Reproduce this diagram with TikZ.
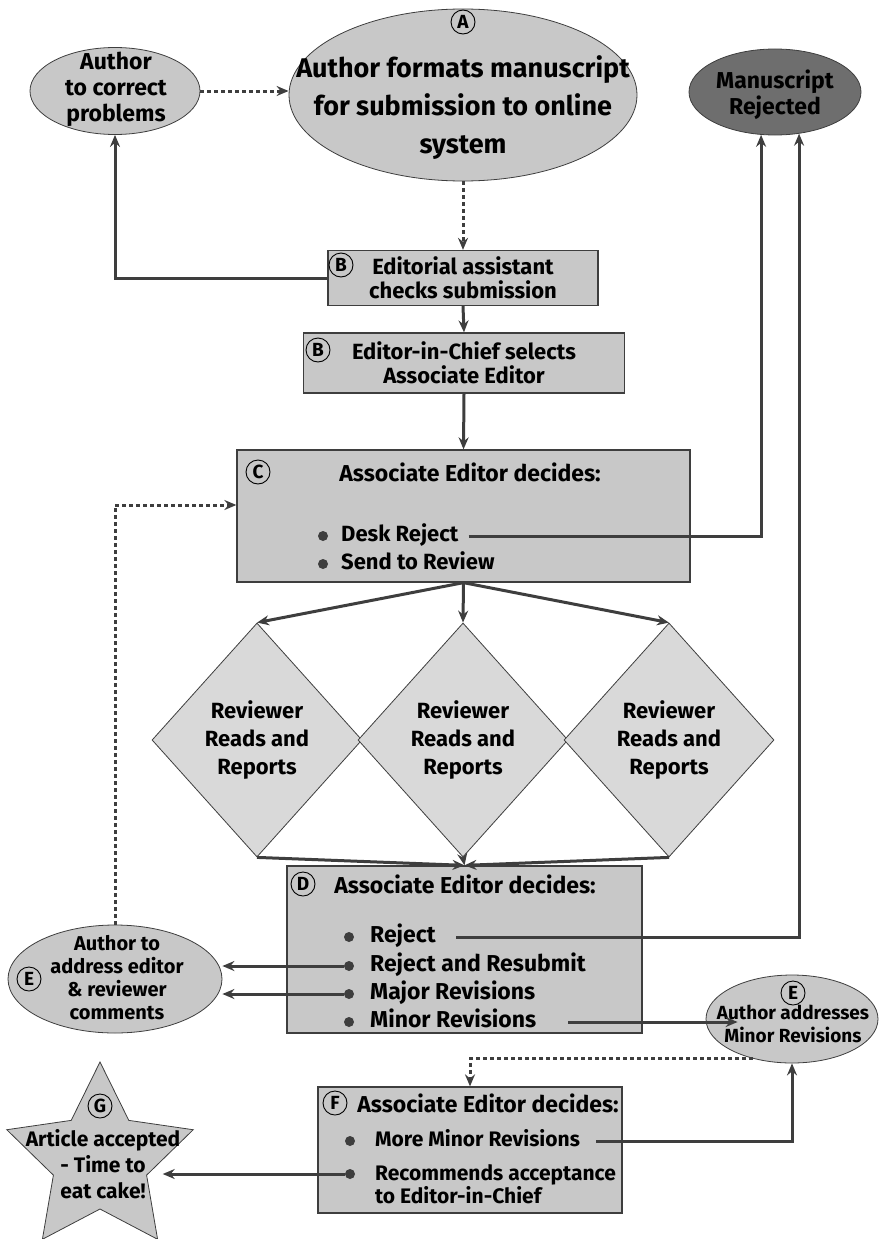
\documentclass[tikz,border=0pt]{standalone}
\usepackage{fontspec}
\setmainfont{Fira Sans}
\usetikzlibrary{shapes.geometric,arrows.meta,positioning,calc}
\definecolor{boxGray}{RGB}{200,200,200}
\definecolor{diaGray}{RGB}{217,217,217}
\definecolor{rejGray}{RGB}{110,110,110}
\definecolor{lineGray}{RGB}{62,62,62}

\begin{document}
\begin{tikzpicture}[x=1pt, y=-1pt,
    every node/.style={font=\bfseries\fontsize{22}{24}\selectfont, align=center, inner sep=0pt},
    oval/.style={ellipse, draw=lineGray, fill=boxGray, line width=0.8pt},
    stagebox/.style={rectangle, draw=lineGray, fill=boxGray, line width=1.3pt},
    review/.style={diamond, draw=lineGray, fill=diaGray, line width=0.8pt,
      minimum width=210pt, minimum height=234pt, font=\bfseries\fontsize{22}{28}\selectfont},
    stagetag/.style={circle, draw=black, line width=0.9pt, minimum size=24pt,
      font=\bfseries\fontsize{19}{19}\selectfont},
    blt/.style={circle, fill=lineGray, minimum size=10pt},
    optline/.style={anchor=west, text height=16pt, text depth=5pt},
    flowarrow/.style={-{Stealth[length=12pt, width=10pt, inset=4pt]}, draw=lineGray, line width=3pt},
    hintarrow/.style={flowarrow, dash pattern=on 4pt off 3pt}
  ]
    \useasboundingbox (0,0) rectangle (880,1239);
    % Submission
    \node[oval, minimum width=348pt, minimum height=172pt] (fmt) at (463,95) {};
    \node[stagetag] (tagA) at (463,22) {A};
    \node[font=\bfseries\fontsize{27}{38}\selectfont] (fmttxt) at (463,108)
      {Author formats manuscript\\for submission to online\\system};
    \node[oval, minimum width=170pt, minimum height=87pt] (fix) at (115,91) {};
    \node[font=\bfseries\fontsize{23}{26}\selectfont] (fixtxt) at (116,89)
      {Author\\to correct\\problems};
    \node[oval, fill=rejGray, minimum width=172pt, minimum height=86pt] (rej) at (775,92) {};
    \node[font=\bfseries\fontsize{23}{26}\selectfont] (rejtxt) at (775,95) {Manuscript\\Rejected};
    % Checks
    \node[stagebox, minimum width=270pt, minimum height=55pt] (chk) at (463,278)
      {Editorial assistant\\checks submission};
    \node[stagetag] (tagB1) at (341,265) {B};
    \node[stagebox, minimum width=321pt, minimum height=60pt] (sel) at (464,363)
      {Editor-in-Chief selects\\Associate Editor};
    \node[stagetag] (tagB2) at (318,350) {B};
    % First decision
    \node[stagebox, minimum width=453pt, minimum height=132pt] (aedc) at (463.5,516) {};
    \node[stagetag] (tagC) at (258,472) {C};
    \node[font=\bfseries\fontsize{23}{24}\selectfont] (hdrC) at (470,472) {Associate Editor decides:};
    \node[blt] (bC1) at (323,536) {};
    \node[blt] (bC2) at (323,564) {};
    \node[optline] (deskrej) at (341,536) {Desk Reject};
    \node[optline] (sendrev) at (341,564) {Send to Review};
    % Reviewers
    \node[review] (rv1) at (257,740) {Reviewer\\Reads and\\Reports};
    \node[review] (rv2) at (463,740) {Reviewer\\Reads and\\Reports};
    \node[review] (rv3) at (669,740) {Reviewer\\Reads and\\Reports};
    % Second decision
    \node[stagebox, minimum width=355pt, minimum height=167pt] (aedd) at (464.5,949.5) {};
    \node[stagetag] (tagD) at (303,884) {D};
    \node[font=\bfseries\fontsize{23}{24}\selectfont] (hdrD) at (465,884) {Associate Editor decides:};
    \node[blt] (bD1) at (349,937) {};
    \node[blt] (bD2) at (349,966) {};
    \node[blt] (bD3) at (349,994) {};
    \node[blt] (bD4) at (349,1022) {};
    \node[optline, font=\bfseries\fontsize{23}{24}\selectfont] (rejitem) at (370,937) {Reject};
    \node[optline, font=\bfseries\fontsize{23}{24}\selectfont] (rrsitem) at (370,966) {Reject and Resubmit};
    \node[optline, font=\bfseries\fontsize{23}{24}\selectfont] (majitem) at (370,994) {Major Revisions};
    \node[optline, font=\bfseries\fontsize{23}{24}\selectfont] (minitem) at (370,1022) {Minor Revisions};
    % Authors revise
    \node[oval, minimum width=214pt, minimum height=108pt] (revise) at (115,979) {};
    \node[font=\bfseries\fontsize{20}{23}\selectfont] (revisetxt) at (117,978)
      {Author to\\address editor\\\& reviewer\\comments};
    \node[stagetag] (tagE1) at (29,979) {E};
    \node[oval, minimum width=172pt, minimum height=88pt] (fixminor) at (792,1019) {};
    \node[stagetag] (tagE2) at (793,993) {E};
    \node[font=\bfseries\fontsize{19}{23}\selectfont] (fixminortxt) at (793,1024)
      {Author addresses\\Minor Revisions};
    % Final decision
    \node[stagebox, minimum width=304pt, minimum height=126pt] (aedf) at (470,1150) {};
    \node[stagetag] (tagF) at (335,1103) {F};
    \node[font=\bfseries\fontsize{23}{24}\selectfont] (hdrF) at (488,1103) {Associate Editor decides:};
    \node[blt] (bF1) at (350,1141) {};
    \node[blt] (bF2) at (350,1174) {};
    \node[optline, font=\bfseries\fontsize{21}{23}\selectfont] (moreitem) at (375,1141) {More Minor Revisions};
    \node[anchor=north west, align=left, font=\bfseries\fontsize{21}{23}\selectfont] (recitem)
      at (375,1164) {Recommends acceptance\\to Editor-in-Chief};
    % Accepted
    \node[star, star points=5, star point ratio=2, minimum size=196pt,
      draw=lineGray, fill=boxGray, line width=0.8pt] (cake) at (100,1160) {};
    \node[stagetag] (tagG) at (100,1106) {G};
    \node[font=\bfseries\fontsize{21}{26}\selectfont] (caketxt) at (103,1164)
      {Article accepted\\- Time to\\eat cake!};
    % Arrows
    \draw[hintarrow] (fix.east) -- (fix.east -| fmt.west);
    \draw[hintarrow] (fmt.south) -- (chk.north);
    \draw[flowarrow] (chk.west) -| (fix.south);
    \draw[flowarrow] (chk.south) -- (sel.north);
    \draw[flowarrow] (sel.south) -- (aedc.north);
    \draw[flowarrow] ([xshift=10pt]deskrej.east) -| (rej.252);
    \draw[flowarrow] (aedc.south) -- (rv1.north);
    \draw[flowarrow] (aedc.south) -- (rv2.north);
    \draw[flowarrow] (aedc.south) -- (rv3.north);
    \draw[flowarrow] (rv1.south) -- (aedd.north);
    \draw[flowarrow] (rv2.south) -- (aedd.north);
    \draw[flowarrow] (rv3.south) -- (aedd.north);
    \draw[hintarrow] (revise.north) |- ([yshift=11pt]aedc.west);
    \draw[flowarrow] ([xshift=20pt]rejitem.east) -| (rej.300);
    \draw[flowarrow] (bD2) -- (bD2 -| revise.east);
    \draw[flowarrow] (bD3) -- (bD3 -| revise.east);
    \draw[flowarrow] ([xshift=32pt]minitem.east) -- ([xshift=32pt]minitem.east -| fixminor.west);
    \draw[hintarrow] (fixminor.225) -| (aedf.north);
    \draw[flowarrow] ([xshift=16pt]moreitem.east) -| (fixminor.south);
    \draw[flowarrow] (bF2) -- (bF2 -| cake.east);
  \end{tikzpicture}
\end{document}
